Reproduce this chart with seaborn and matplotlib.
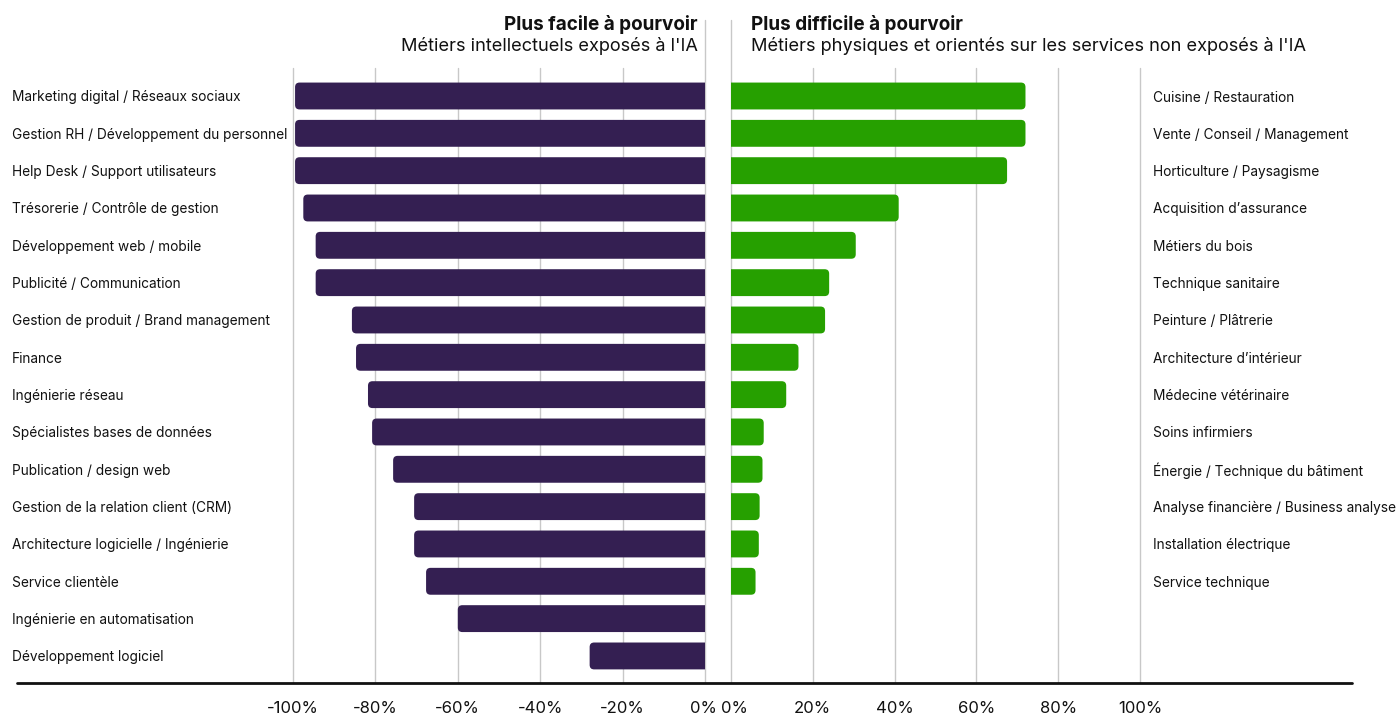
import matplotlib
matplotlib.use("Agg")
import matplotlib.pyplot as plt
import matplotlib.transforms as mtrans
import seaborn as sns
import pandas as pd
from matplotlib.patches import FancyBboxPatch
from matplotlib.lines import Line2D

# ---- data ----
left_categories = [
    "Marketing digital / Réseaux sociaux",
    "Gestion RH / Développement du personnel",
    "Help Desk / Support utilisateurs",
    "Trésorerie / Contrôle de gestion",
    "Développement web / mobile",
    "Publicité / Communication",
    "Gestion de produit / Brand management",
    "Finance",
    "Ingénierie réseau",
    "Spécialistes bases de données",
    "Publication / design web",
    "Gestion de la relation client (CRM)",
    "Architecture logicielle / Ingénierie",
    "Service clientèle",
    "Ingénierie en automatisation",
    "Développement logiciel",
]
left_values = [-99.5, -99.5, -99.5, -97.5, -94.5, -94.5, -85.7, -84.7, -81.8, -80.8, -75.7, -70.6, -70.6, -67.7, -60, -28]

right_categories = [
    "Cuisine / Restauration",
    "Vente / Conseil / Management",
    "Horticulture / Paysagisme",
    "Acquisition d’assurance",
    "Métiers du bois",
    "Technique sanitaire",
    "Peinture / Plâtrerie",
    "Architecture d’intérieur",
    "Médecine vétérinaire",
    "Soins infirmiers",
    "Énergie / Technique du bâtiment",
    "Analyse financière / Business analyse",
    "Installation électrique",
    "Service technique",
]
right_values = [72, 72, 67.5, 41, 30.5, 24, 23, 16.5, 13.5, 8, 7.7, 7, 6.8, 6]

left_ticks = [-100, -80, -60, -40, -20, 0]
right_ticks = [0, 20, 40, 60, 80, 100]

left_title = "Plus facile à pourvoir"
left_subtitle = "Métiers intellectuels exposés à l'IA"
right_title = "Plus difficile à pourvoir"
right_subtitle = "Métiers physiques et orientés sur les services non exposés à l'IA"

PURPLE = "#341F52"
GREEN = "#26A000"
GRID = "#c8c8c8"
INK = "#111111"

sns.set_theme(style="white")
plt.rcParams["font.family"] = ["Inter", "DejaVu Sans"]

W, H = 1397, 715
fig = plt.figure(figsize=(W / 100, H / 100), dpi=100)

top_px, bot_px = 68, 683
row0_px, pitch = 96.0, 37.33
y_top = (top_px - row0_px) / pitch
y_bot = (bot_px - row0_px) / pitch


def px_axes(x0, x1):
    return fig.add_axes([x0 / W, 1 - bot_px / H, (x1 - x0) / W, (bot_px - top_px) / H])


axL = px_axes(293, 705)
axR = px_axes(731, 1140)

dfL = pd.DataFrame({"cat": left_categories, "val": left_values})
dfR = pd.DataFrame({"cat": right_categories, "val": right_values})

sns.barplot(data=dfL, x="val", y="cat", orient="h", color=PURPLE, ax=axL,
            width=0.72, saturation=1, zorder=3)
sns.barplot(data=dfR, x="val", y="cat", orient="h", color=GREEN, ax=axR,
            width=0.72, saturation=1, zorder=3)


def round_bars(ax, color, xspan):
    pxx = (ax.get_position().width * W) / xspan
    r_x = 4.5 / pxx
    aspect = pxx / pitch
    for p in list(ax.patches):
        x, y, w, h = p.get_x(), p.get_y(), p.get_width(), p.get_height()
        x0, x1 = min(x, x + w), max(x, x + w)
        p.set_visible(False)
        # extend past the zero edge; the axes clip hides the rounded end there
        if x1 <= 0:
            x1 = x1 + 3 * r_x
        else:
            x0 = x0 - 3 * r_x
        fb = FancyBboxPatch((x0, y), x1 - x0, h,
                            boxstyle=f"round,pad=0,rounding_size={r_x}",
                            mutation_aspect=aspect, fc=color, ec="none", zorder=3)
        ax.add_patch(fb)
        fb.set_clip_path(ax.patch)


axL.set_xlim(-100, 0)
axR.set_xlim(0, 100)
for ax in (axL, axR):
    ax.set_ylim(y_bot, y_top)
    ax.set_xlabel("")
    ax.set_ylabel("")
    for s in ax.spines.values():
        s.set_visible(False)
    ax.set_facecolor("none")

round_bars(axL, PURPLE, 100)
round_bars(axR, GREEN, 100)

# gridlines
frac_up = (bot_px - 20) / (bot_px - top_px)
for ax, ticks in ((axL, left_ticks), (axR, right_ticks)):
    for t in ticks:
        ymax = frac_up if t == 0 else 1
        ax.axvline(t, ymin=0, ymax=ymax, color=GRID, lw=1, zorder=1, clip_on=False)

# ticks
axL.set_xticks(left_ticks)
axL.set_xticklabels([f"{t}%" for t in left_ticks])
axR.set_xticks(right_ticks)
axR.set_xticklabels([f"{t}%" for t in right_ticks])
for ax in (axL, axR):
    ax.tick_params(axis="x", length=0, pad=13, labelsize=12, colors=INK)

# nudge the two "0%" labels apart
labL0 = axL.get_xticklabels()[-1]
labL0.set_transform(labL0.get_transform() + mtrans.ScaledTranslation(-2 / 100, 0, fig.dpi_scale_trans))
labR0 = axR.get_xticklabels()[0]
labR0.set_transform(labR0.get_transform() + mtrans.ScaledTranslation(3 / 100, 0, fig.dpi_scale_trans))

# y labels
axL.tick_params(axis="y", length=0, pad=(293 - 12) * 0.72, labelsize=9.85, colors=INK)
for lab in axL.get_yticklabels():
    lab.set_horizontalalignment("left")
axR.yaxis.tick_right()
axR.tick_params(axis="y", length=0, pad=(1153 - 1140) * 0.72, labelsize=9.85, colors=INK,
                left=False, labelleft=False, right=False, labelright=True)

# baseline
fig.add_artist(Line2D([17 / W, 1352 / W], [1 - bot_px / H, 1 - bot_px / H],
                      color=INK, lw=2, zorder=5))

# titles
fig.text(698 / W, 1 - 24 / H, left_title, ha="right", va="center",
         fontsize=13.6, fontweight="bold", color=INK)
fig.text(698 / W, 1 - 46 / H, left_subtitle, ha="right", va="center",
         fontsize=13.1, color=INK)
fig.text(751 / W, 1 - 24 / H, right_title, ha="left", va="center",
         fontsize=13.6, fontweight="bold", color=INK)
fig.text(751 / W, 1 - 46 / H, right_subtitle, ha="left", va="center",
         fontsize=13.1, color=INK)

fig.savefig("out.png", dpi=100, facecolor="white")
